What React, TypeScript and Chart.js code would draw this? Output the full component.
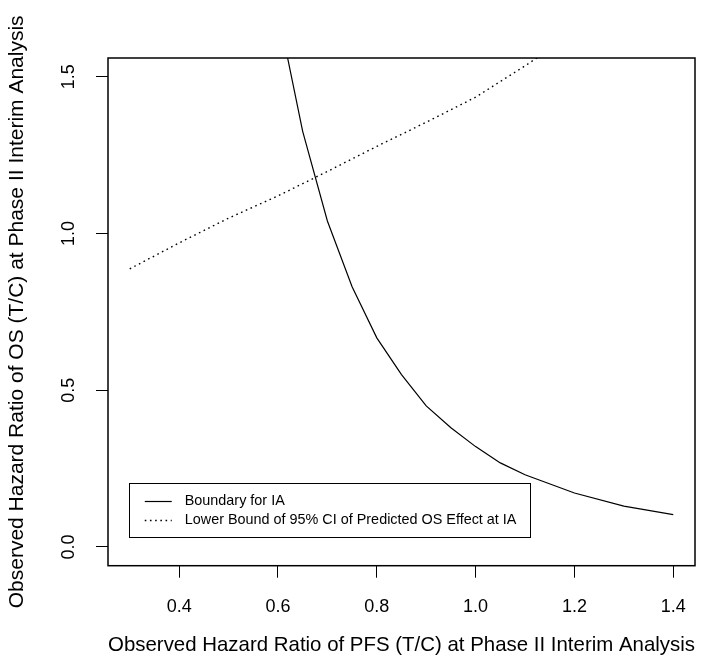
import React, { useEffect, useRef } from "react";
import { Chart, registerables } from "chart.js";

Chart.register(...registerables);

// ---- data ----
const boundaryX = [0.6, 0.65, 0.7, 0.75, 0.8, 0.85, 0.9, 0.95, 1.0, 1.05, 1.1, 1.2, 1.3, 1.4];
const boundaryY = [1.71, 1.326, 1.04, 0.83, 0.667, 0.55, 0.45, 0.38, 0.32, 0.268, 0.23, 0.172, 0.13, 0.103];

const lowerX = [0.3, 0.4, 0.5, 0.6, 0.7, 0.8, 0.9, 1.0, 1.1, 1.2];
const lowerY = [0.887, 0.97, 1.049, 1.12, 1.198, 1.278, 1.355, 1.435, 1.535, 1.64];

const xTicks = [0.4, 0.6, 0.8, 1.0, 1.2, 1.4];
const yTicks = [0.0, 0.5, 1.0, 1.5];

const X_MIN = 0.256;
const X_MAX = 1.444;
const Y_MIN = -0.06;
const Y_MAX = 1.56;

const LEGEND_X = 0.3;
const LEGEND_Y = 0.2;

const seriesLabels = [
  "Boundary for IA",
  "Lower Bound of 95% CI of Predicted OS Effect at IA",
];
const xTitle = "Observed Hazard Ratio of PFS (T/C) at Phase II Interim Analysis";
const yTitle = "Observed Hazard Ratio of OS (T/C) at Phase II Interim Analysis";

const FONT = "'Liberation Sans', Arial, Helvetica, sans-serif";

const boxPlugin = {
  id: "rbox",
  afterDraw(chart: any) {
    const { ctx, chartArea } = chart;
    ctx.save();
    ctx.strokeStyle = "#000";
    ctx.lineWidth = 1.5;
    ctx.setLineDash([]);
    ctx.strokeRect(
      chartArea.left,
      chartArea.top,
      chartArea.right - chartArea.left,
      chartArea.bottom - chartArea.top
    );
    ctx.restore();
  },
};

const legendPlugin = {
  id: "rlegend",
  afterDraw(chart: any) {
    const { ctx } = chart;
    const xs = chart.scales.x;
    const ys = chart.scales.y;
    const left = xs.getPixelForValue(LEGEND_X);
    const top = ys.getPixelForValue(LEGEND_Y);
    const w = 401;
    const h = 54;
    ctx.save();
    ctx.fillStyle = "#fff";
    ctx.fillRect(left, top, w, h);
    ctx.strokeStyle = "#000";
    ctx.lineWidth = 1;
    ctx.setLineDash([]);
    ctx.strokeRect(Math.round(left) - 0.5, Math.round(top) - 0.5, w, h);
    ctx.font = `14.4px ${FONT}`;
    ctx.textBaseline = "middle";
    ctx.textAlign = "left";
    chart.data.datasets.forEach((ds: any, i: number) => {
      const y = Math.round(top + 17 + i * 19) + 0.5;
      ctx.beginPath();
      ctx.strokeStyle = ds.borderColor;
      ctx.lineWidth = ds.borderWidth;
      ctx.setLineDash(ds.borderDash || []);
      ctx.moveTo(left + 15, y);
      ctx.lineTo(left + 42, y);
      ctx.stroke();
      ctx.setLineDash([]);
      ctx.fillStyle = "#000";
      ctx.fillText(ds.label, left + 55, y);
    });
    ctx.restore();
  },
};

export default function App() {
  const ref = useRef<HTMLCanvasElement | null>(null);

  useEffect(() => {
    if (!ref.current) return;
    const chart = new Chart(ref.current, {
      type: "scatter",
      data: {
        datasets: [
          {
            label: seriesLabels[0],
            data: boundaryX.map((x, i) => ({ x, y: boundaryY[i] })),
            showLine: true,
            borderColor: "#000",
            backgroundColor: "#000",
            borderWidth: 1.2,
            pointRadius: 0,
            tension: 0,
          },
          {
            label: seriesLabels[1],
            data: lowerX.map((x, i) => ({ x, y: lowerY[i] })),
            showLine: true,
            borderColor: "#000",
            backgroundColor: "#000",
            borderWidth: 1.4,
            borderDash: [1.6, 3.6],
            pointRadius: 0,
            tension: 0,
          },
        ],
      },
      options: {
        responsive: false,
        maintainAspectRatio: false,
        animation: false,
        devicePixelRatio: 1,
        layout: { padding: { top: 58, right: 6, left: 0, bottom: 0 } },
        plugins: {
          legend: { display: false },
          tooltip: { enabled: false },
        },
        scales: {
          x: {
            type: "linear",
            min: X_MIN,
            max: X_MAX,
            afterBuildTicks: (s: any) => {
              s.ticks = xTicks.map((v) => ({ value: v }));
            },
            afterFit: (s: any) => {
              s.height = 102.3;
              s.paddingLeft = 0;
              s.paddingRight = 0;
            },
            grid: {
              display: true,
              drawOnChartArea: false,
              drawTicks: true,
              tickLength: 12,
              tickColor: "#000",
              tickWidth: 1,
            },
            border: { display: false },
            ticks: {
              color: "#000",
              font: { family: FONT, size: 18 },
              padding: 19,
              autoSkip: false,
              maxRotation: 0,
              minRotation: 0,
              callback: (v: any) => Number(v).toFixed(1),
            },
            title: {
              display: true,
              text: xTitle,
              color: "#000",
              font: { family: FONT, size: 21 },
              padding: { top: 0, bottom: 10 },
            },
          },
          y: {
            type: "linear",
            min: Y_MIN,
            max: Y_MAX,
            afterBuildTicks: (s: any) => {
              s.ticks = yTicks.map((v) => ({ value: v }));
            },
            afterFit: (s: any) => {
              s.width = 108;
              s.paddingTop = 0;
              s.paddingBottom = 0;
            },
            grid: {
              display: true,
              drawOnChartArea: false,
              drawTicks: true,
              tickLength: 12,
              tickColor: "#000",
              tickWidth: 1,
            },
            border: { display: false },
            ticks: {
              color: "#000",
              font: { family: FONT, size: 18 },
              padding: 14,
              autoSkip: false,
              minRotation: 90,
              maxRotation: 90,
              crossAlign: "center",
              callback: (v: any) => Number(v).toFixed(1),
            },
            title: {
              display: true,
              text: yTitle,
              color: "#000",
              font: { family: FONT, size: 21 },
              padding: { top: 5, bottom: 0 },
            },
          },
        },
      },
      plugins: [boxPlugin, legendPlugin],
    } as any);
    return () => chart.destroy();
  }, []);

  return (
    <div style={{ position: "absolute", left: 0, top: 0, width: 701, height: 668, background: "#fff" }}>
      <canvas ref={ref} width={701} height={668} style={{ display: "block", width: 701, height: 668 }} />
    </div>
  );
}
